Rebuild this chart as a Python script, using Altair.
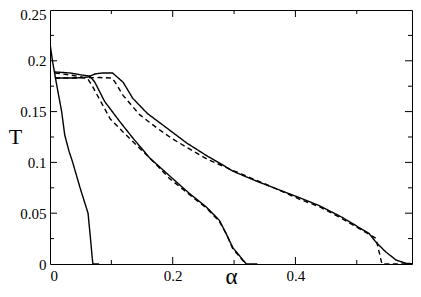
import altair as alt
import pandas as pd

# ---- data ----
left_x = [0.0, 0.004, 0.011, 0.019, 0.024, 0.031, 0.037, 0.049, 0.062, 0.066, 0.069, 0.070, 0.080]
left_y = [0.217, 0.200, 0.176, 0.150, 0.127, 0.111, 0.100, 0.075, 0.050, 0.025, 0.005, 0.0, 0.0]

mid_solid_x = [0.008, 0.033, 0.052, 0.065, 0.073, 0.089, 0.114, 0.135, 0.163, 0.200, 0.228, 0.255, 0.276, 0.287, 0.298, 0.320, 0.338]
mid_solid_y = [0.189, 0.188, 0.186, 0.185, 0.179, 0.160, 0.140, 0.124, 0.104, 0.084, 0.069, 0.056, 0.043, 0.030, 0.016, 0.0, 0.0]

mid_dash_x = [0.008, 0.033, 0.052, 0.062, 0.070, 0.098, 0.119, 0.146, 0.173, 0.195, 0.228, 0.255, 0.276, 0.287, 0.298, 0.319]
mid_dash_y = [0.188, 0.186, 0.184, 0.182, 0.174, 0.143, 0.130, 0.114, 0.098, 0.084, 0.068, 0.055, 0.042, 0.030, 0.015, 0.0]

right_solid_x = [0.008, 0.041, 0.062, 0.073, 0.085, 0.102, 0.119, 0.135, 0.159, 0.190, 0.223, 0.257, 0.276, 0.298,
                 0.336, 0.385, 0.407, 0.439, 0.476, 0.520, 0.531, 0.547, 0.564, 0.580, 0.600]
right_solid_y = [0.183, 0.183, 0.184, 0.187, 0.188, 0.188, 0.179, 0.163, 0.148, 0.134, 0.119, 0.106, 0.0995, 0.0914,
                 0.0817, 0.0703, 0.0652, 0.0574, 0.046, 0.030, 0.0217, 0.012, 0.0039, 0.0007, 0.0]

right_dash_x = [0.008, 0.081, 0.101, 0.106, 0.119, 0.146, 0.174, 0.200, 0.228, 0.257, 0.293, 0.346, 0.407, 0.439,
                0.476, 0.520, 0.531, 0.537, 0.541, 0.600]
right_dash_y = [0.183, 0.1835, 0.183, 0.179, 0.166, 0.147, 0.134, 0.123, 0.113, 0.103, 0.0934, 0.080, 0.0637, 0.0564,
                0.0447, 0.0292, 0.0253, 0.0104, 0.0, 0.0]

x_major = [0.2, 0.4]
x_minor = [0.1, 0.3, 0.5]
y_major = [0.05, 0.1, 0.15, 0.2]
y_minor = [0.025, 0.075, 0.125, 0.175, 0.225]
x_labels = [0, 0.2, 0.4]
y_labels = [0, 0.05, 0.1, 0.15, 0.2, 0.25]

rows = []
for name, style, xs, ys in [
    ("left", "solid", left_x, left_y),
    ("mid_solid", "solid", mid_solid_x, mid_solid_y),
    ("mid_dash", "dashed", mid_dash_x, mid_dash_y),
    ("right_solid", "solid", right_solid_x, right_solid_y),
    ("right_dash", "dashed", right_dash_x, right_dash_y),
]:
    for i, (a, b) in enumerate(zip(xs, ys)):
        rows.append({"series": name, "style": style, "x": a, "y": b, "i": i})
df = pd.DataFrame(rows)

W, H = 362, 254
FONT = "Liberation Serif"

xscale = alt.Scale(domain=[0, 0.59], nice=False, zero=False)
yscale = alt.Scale(domain=[0, 0.25], nice=False)

lines = alt.Chart(df).mark_line(strokeWidth=1.4, color="black", clip=True).encode(
    x=alt.X("x:Q", scale=xscale,
            axis=alt.Axis(values=x_labels, format="~g", ticks=False, domain=False, grid=False,
                          labelPadding=4, title="α", titleFontSize=23,
                          titleX=W * 0.5 / 0.59 * 0.5 * 1.18, titleY=19, titleBaseline="alphabetic",
                          titleAlign="center")),
    y=alt.Y("y:Q", scale=yscale,
            axis=alt.Axis(values=y_labels, format="~g", ticks=False, domain=False, grid=False,
                          labelPadding=4, labelOffset={"expr": "datum.value >= 0.25 ? 4 : 0"},
                          title="T", titleFontSize=22, titleAngle=0, titleX=-35, titleY=126,
                          titleAlign="center", titleBaseline="middle")),
    detail="series:N",
    order="i:Q",
    strokeDash=alt.StrokeDash("style:N", scale=alt.Scale(domain=["solid", "dashed"], range=[[1, 0], [5, 3.5]]),
                              legend=None),
)


def xticks(vals, length):
    d = pd.DataFrame({"v": vals})
    b = alt.Chart(d).mark_rule(color="black", strokeWidth=1).encode(
        x=alt.X("v:Q", scale=xscale), y=alt.value(H), y2=alt.value(H - length))
    t = alt.Chart(d).mark_rule(color="black", strokeWidth=1).encode(
        x=alt.X("v:Q", scale=xscale), y=alt.value(0), y2=alt.value(length))
    return [b, t]


def yticks(vals, length):
    d = pd.DataFrame({"v": vals})
    l = alt.Chart(d).mark_rule(color="black", strokeWidth=1).encode(
        y=alt.Y("v:Q", scale=yscale), x=alt.value(0), x2=alt.value(length))
    r = alt.Chart(d).mark_rule(color="black", strokeWidth=1).encode(
        y=alt.Y("v:Q", scale=yscale), x=alt.value(W), x2=alt.value(W - length))
    return [l, r]


tick_layers = xticks(x_major, 7) + xticks(x_minor, 4) + yticks(y_major, 7) + yticks(y_minor, 4)

chart = alt.layer(lines, *tick_layers).properties(
    width=W, height=H,
    autosize=alt.AutoSizeParams(type="none"),
    padding={"left": 42, "top": 2, "right": 1, "bottom": 25},
    background="white",
).configure_view(
    stroke="black", strokeWidth=1
).configure_axis(
    labelFont=FONT, labelFontSize=15, labelColor="black",
    titleFont=FONT, titleFontWeight="normal", titleColor="black",
)

chart.save("out.html", embed_options={"renderer": "svg", "actions": False})
